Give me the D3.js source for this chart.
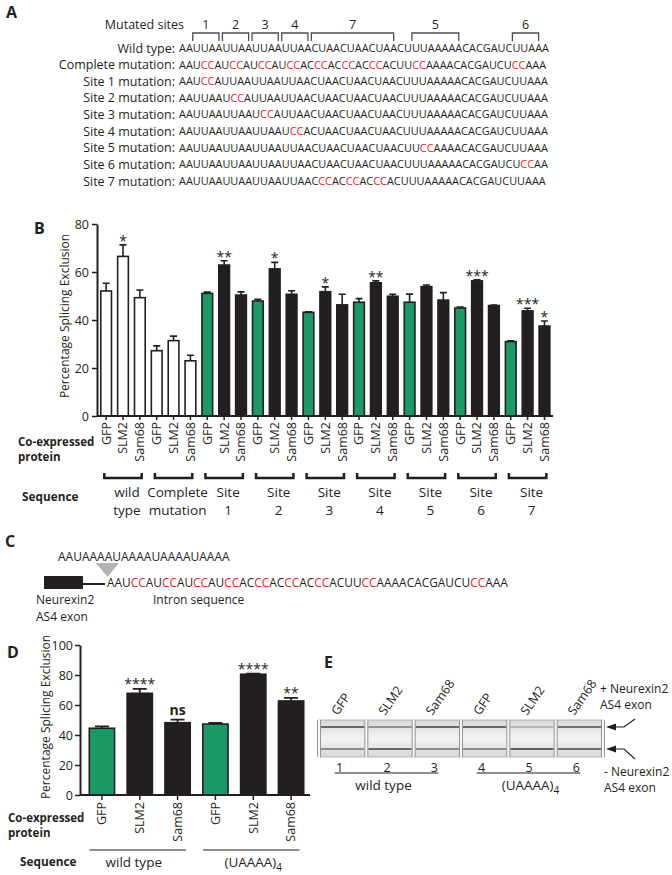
<!DOCTYPE html>
<html>
<head>
<meta charset="utf-8">
<script src="https://cdnjs.cloudflare.com/ajax/libs/d3/7.8.5/d3.min.js"></script>
<style>
  body { margin: 0; background: #fff; }
  svg { display: block; font-family: "Open Sans", sans-serif; }
  text { fill: #231f20; }
</style>
</head>
<body>
<div id="fig"></div>
<script>
// ---- data ----
const seqLabels = ["Wild type:", "Complete mutation:", "Site 1 mutation:", "Site 2 mutation:",
  "Site 3 mutation:", "Site 4 mutation:", "Site 5 mutation:", "Site 6 mutation:", "Site 7 mutation:"];
// [..] marks the mutated (red) bases
const sequences = [
  "AAUUAAUUAAUUAAUUAACUAACUAACUAACUUUAAAAACACGAUCUUAAA",
  "AAU[CC]AU[CC]AU[CC]AU[CC]AC[CC]AC[CC]AC[CC]ACUU[CC]AAAACACGAUCU[CC]AAA",
  "AAU[CC]AUUAAUUAAUUAACUAACUAACUAACUUUAAAAACACGAUCUUAAA",
  "AAUUAAU[CC]AUUAAUUAACUAACUAACUAACUUUAAAAACACGAUCUUAAA",
  "AAUUAAUUAAU[CC]AUUAACUAACUAACUAACUUUAAAAACACGAUCUUAAA",
  "AAUUAAUUAAUUAAU[CC]ACUAACUAACUAACUUUAAAAACACGAUCUUAAA",
  "AAUUAAUUAAUUAAUUAACUAACUAACUAACUU[CC]AAAACACGAUCUUAAA",
  "AAUUAAUUAAUUAAUUAACUAACUAACUAACUUUAAAAACACGAUCU[CC]AA",
  "AAUUAAUUAAUUAAUUAAC[CC]AC[CC]AC[CC]ACUUUAAAAACACGAUCUUAAA"
];
// mutated sites: character ranges in the wild type sequence
const siteNames = ["1", "2", "3", "4", "7", "5", "6"];
const siteFirst = [2, 6, 10, 14, 18, 32, 46];
const siteLast = [5, 9, 13, 17, 29, 38, 49];

const proteins = ["GFP", "SLM2", "Sam68"];
const groupsB = [["wild", "type"], ["Complete", "mutation"], ["Site", "1"], ["Site", "2"], ["Site", "3"],
  ["Site", "4"], ["Site", "5"], ["Site", "6"], ["Site", "7"]];
const meanB = [52.1, 66.5, 49.3, 27.2, 31.4, 23.0, 51.1, 62.9, 50.4, 47.9, 61.3, 50.7, 43.2, 51.8, 46.3,
  47.4, 55.5, 49.9, 47.4, 53.9, 48.3, 45.0, 56.3, 46.0, 31.0, 43.8, 37.5];
const errB = [3.2, 4.8, 3.2, 2.0, 1.9, 2.3, 0.5, 1.8, 1.3, 0.7, 2.7, 1.5, 0.2, 2.0, 4.4,
  1.5, 0.8, 0.8, 3.4, 0.7, 3.1, 0.4, 0.5, 0.2, 0.3, 1.1, 2.1];
const starsB = ["", "*", "", "", "", "", "", "**", "", "", "*", "", "", "*", "",
  "", "**", "", "", "", "", "", "***", "", "", "***", "*"];

const insertSeq = "AAUAAAAUAAAAUAAAAUAAAA";

const groupsD = ["wild type", "(UAAAA)"];
const meanD = [44.5, 67.8, 48.2, 47.3, 80.5, 62.7];
const errD = [1.3, 2.9, 2.0, 0.7, 0.4, 2.0];
const starsD = ["", "****", "ns", "", "****", "**"];

const laneNames = ["GFP", "SLM2", "Sam68", "GFP", "SLM2", "Sam68"];
const upperBand = [0.85, 0.55, 0.85, 0.85, 0.3, 0.8];
const lowerBand = [0.6, 0.85, 0.6, 0.6, 0.9, 0.8];

// ---- drawing ----
const ink = "#231f20", red = "#ed1c24", green = "#1b9966";
const svg = d3.select("#fig").append("svg").attr("width", 672).attr("height", 875);

function panelLabel(g, t, x, y) {
  g.append("text").attr("x", x).attr("y", y).attr("dy", "0.36em")
    .style("font-weight", "bold").style("font-size", "16px").text(t);
}
function txt(g, t, x, y, size, anchor) {
  return g.append("text").attr("x", x).attr("y", y).attr("dy", "0.36em")
    .attr("text-anchor", anchor || "start").style("font-size", size + "px").text(t);
}
function fillSeq(sel) {
  sel.each(function (s) {
    const t = d3.select(this);
    s.split(/(\[[A-Z]+\])/).filter(p => p).forEach(p => {
      const m = p.startsWith("[");
      t.append("tspan").style("fill", m ? red : ink).text(m ? p.slice(1, -1) : p);
    });
  });
}

// Panel A
const A = svg.append("g");
panelLabel(A, "A", 6, 12);
const rowY = d3.scaleLinear().domain([0, 8]).range([48, 181]);
A.selectAll("text.rowlab").data(seqLabels).join("text").attr("class", "rowlab")
  .attr("x", 175).attr("y", (d, i) => rowY(i)).attr("dy", "0.36em")
  .attr("text-anchor", "end").style("font-size", "12.5px").text(d => d);
const seqText = A.selectAll("text.seq").data(sequences).join("text").attr("class", "seq")
  .attr("x", 179).attr("y", (d, i) => rowY(i)).attr("dy", "0.36em").style("font-size", "10.9px");
fillSeq(seqText);

const wt = seqText.node();
const charStart = k => wt.getStartPositionOfChar(k).x;
const charMid = k => (wt.getStartPositionOfChar(k).x + wt.getEndPositionOfChar(k).x) / 2;
A.selectAll("path.br").data(siteNames).join("path").attr("class", "br")
  .attr("d", (d, i) => `M${charStart(siteFirst[i])},41V33H${charMid(siteLast[i])}V41`)
  .attr("fill", "none").attr("stroke", "#4d4d4d").attr("stroke-width", 1.3);
A.selectAll("text.sn").data(siteNames).join("text").attr("class", "sn")
  .attr("x", (d, i) => (charStart(siteFirst[i]) + charMid(siteLast[i])) / 2)
  .attr("y", 24).attr("dy", "0.36em").attr("text-anchor", "middle")
  .style("font-size", "12.5px").text(d => d);
txt(A, "Mutated sites", 184, 24, 12.5, "end");

// Panel B
const B = svg.append("g");
panelLabel(B, "B", 34, 228);
const xB = d3.scaleBand().domain(d3.range(meanB.length)).range([97.7, 552.9])
  .paddingInner(0.27).paddingOuter(0.135);
const yB = d3.scaleLinear().domain([0, 80]).range([416, 224]);
const bwB = xB.bandwidth();
const fillB = i => i < 6 ? "#fff" : (i % 3 === 0 ? green : ink);

B.selectAll("rect.bar").data(meanB).join("rect").attr("class", "bar")
  .attr("x", (d, i) => xB(i) + 0.8).attr("width", bwB - 1.6)
  .attr("y", d => yB(d)).attr("height", d => yB(0) - yB(d))
  .attr("fill", (d, i) => fillB(i)).attr("stroke", ink).attr("stroke-width", 1.6);
B.selectAll("path.err").data(meanB).join("path").attr("class", "err")
  .attr("d", (d, i) => {
    const cx = xB(i) + bwB / 2, top = yB(d + errB[i]);
    return `M${cx},${yB(d)}V${top}M${cx - 3.5},${top}H${cx + 3.5}`;
  })
  .attr("fill", "none").attr("stroke", ink).attr("stroke-width", 1.6);
B.selectAll("text.star").data(starsB).join("text").attr("class", "star")
  .attr("x", (d, i) => xB(i) + bwB / 2).attr("y", (d, i) => yB(meanB[i] + errB[i]) + 1)
  .attr("text-anchor", "middle").style("font-size", "14px").text(d => d);

const axB = B.append("g").attr("transform", "translate(97,0)")
  .call(d3.axisLeft(yB).tickValues([0, 20, 40, 60, 80]).tickSize(5).tickPadding(3).tickSizeOuter(0));
axB.selectAll("text").style("font-size", "12.5px").style("font-family", "Open Sans");
const axBx = B.append("g").attr("transform", "translate(0,416)")
  .call(d3.axisBottom(xB).tickFormat(i => proteins[i % 3]).tickSize(4).tickSizeOuter(0));
axBx.select(".domain").attr("d", "M97,0H553");
axBx.selectAll("text").attr("y", 0).attr("x", -6).attr("dy", "0.35em")
  .attr("transform", "rotate(-90)").attr("text-anchor", "end")
  .style("font-size", "12.5px").style("font-family", "Open Sans");
[axB, axBx].forEach(a => {
  a.select(".domain").attr("stroke", ink).attr("stroke-width", 2);
  a.selectAll(".tick line").attr("stroke", ink).attr("stroke-width", 1.5);
});

txt(B, "Co-expressed", 18, 442, 11.5).style("font-weight", "bold");
txt(B, "protein", 18, 457, 11.5).style("font-weight", "bold");
txt(B, "Sequence", 22, 497, 11.8).style("font-weight", "bold");
B.append("text").attr("transform", "translate(65,316) rotate(-90)").attr("dy", "0.36em")
  .attr("text-anchor", "middle").style("font-size", "12px").text("Percentage Splicing Exclusion");

groupsB.forEach((lines, g) => {
  const x0 = xB(3 * g) + bwB * 0.35, x1 = xB(3 * g + 2) + bwB * 0.65;
  B.append("path").attr("d", `M${x0},473V478H${x1}V473`).attr("fill", "none")
    .attr("stroke", ink).attr("stroke-width", 2.5);
  const cx = (x0 + x1) / 2 + 4;
  lines.forEach((l, k) => txt(B, l, cx, 492 + k * 18, 13.5, "middle"));
});

// Panel C
const C = svg.append("g");
panelLabel(C, "C", 5, 541);
txt(C, insertSeq, 58, 557, 12);
C.append("path").attr("d", "M96,563H119L107.5,577Z").attr("fill", "#b3b3b3");
C.append("rect").attr("x", 44).attr("y", 576).attr("width", 39).attr("height", 13).attr("fill", ink);
C.append("line").attr("x1", 83).attr("x2", 105).attr("y1", 584).attr("y2", 584)
  .attr("stroke", ink).attr("stroke-width", 2);
fillSeq(C.selectAll("text.cseq").data([sequences[1]]).join("text").attr("class", "cseq")
  .attr("x", 107).attr("y", 582.5).attr("dy", "0.36em").style("font-size", "11.9px"));
txt(C, "Neurexin2", 36, 599.5, 12);
txt(C, "AS4 exon", 36, 616.5, 12);
txt(C, "Intron sequence", 153, 599.5, 12);

// Panel D
const D = svg.append("g");
panelLabel(D, "D", 7, 652);
const xD = d3.scaleBand().domain(d3.range(meanD.length)).range([83, 310])
  .paddingInner(0.29).paddingOuter(0.145);
const yD = d3.scaleLinear().domain([0, 100]).range([795, 645]);
const bwD = xD.bandwidth();
D.selectAll("rect.bar").data(meanD).join("rect").attr("class", "bar")
  .attr("x", (d, i) => xD(i) + 0.8).attr("width", bwD - 1.6)
  .attr("y", d => yD(d)).attr("height", d => yD(0) - yD(d))
  .attr("fill", (d, i) => i % 3 === 0 ? green : ink).attr("stroke", ink).attr("stroke-width", 1.6);
D.selectAll("path.err").data(meanD).join("path").attr("class", "err")
  .attr("d", (d, i) => {
    const cx = xD(i) + bwD / 2, top = yD(d + errD[i]);
    return `M${cx},${yD(d)}V${top}M${cx - 7},${top}H${cx + 7}`;
  })
  .attr("fill", "none").attr("stroke", ink).attr("stroke-width", 1.8);
D.selectAll("text.star").data(starsD).join("text").attr("class", "star")
  .attr("x", (d, i) => xD(i) + bwD / 2)
  .attr("y", (d, i) => yD(meanD[i] + errD[i]) - (d === "ns" ? 5 : 0))
  .attr("text-anchor", "middle").style("font-size", "14px")
  .style("font-weight", d => d === "ns" ? "bold" : "normal").text(d => d);

const axD = D.append("g").attr("transform", "translate(80,0)")
  .call(d3.axisLeft(yD).tickValues([0, 20, 40, 60, 80, 100]).tickSize(5).tickPadding(2).tickSizeOuter(0));
axD.selectAll("text").style("font-size", "12.5px").style("font-family", "Open Sans");
const axDx = D.append("g").attr("transform", "translate(0,795)")
  .call(d3.axisBottom(xD).tickFormat(i => proteins[i % 3]).tickSize(5).tickSizeOuter(0));
axDx.select(".domain").attr("d", "M80,0H310");
axDx.selectAll("text").attr("y", 0).attr("x", -7).attr("dy", "0.35em")
  .attr("transform", "rotate(-90)").attr("text-anchor", "end")
  .style("font-size", "12.5px").style("font-family", "Open Sans");
[axD, axDx].forEach(a => {
  a.select(".domain").attr("stroke", ink).attr("stroke-width", 2);
  a.selectAll(".tick line").attr("stroke", ink).attr("stroke-width", 1.5);
});
D.append("text").attr("transform", "translate(46,717) rotate(-90)").attr("dy", "0.36em")
  .attr("text-anchor", "middle").style("font-size", "12px").text("Percentage Splicing Exclusion");
txt(D, "Co-expressed", 8, 818, 11.5).style("font-weight", "bold");
txt(D, "protein", 8, 833, 11.5).style("font-weight", "bold");
txt(D, "Sequence", 20, 862, 11.8).style("font-weight", "bold");
groupsD.forEach((name, g) => {
  const x0 = xD(3 * g) + 1, x1 = xD(3 * g + 2) + bwD - 5;
  D.append("line").attr("x1", x0).attr("x2", x1).attr("y1", 850).attr("y2", 850)
    .attr("stroke", ink).attr("stroke-width", 1.2);
  const t = txt(D, name, (x0 + x1) / 2 + (g === 0 ? -4 : 2), 862, 13.5, "middle");
  if (g === 1) t.append("tspan").attr("dy", "0.45em").style("font-size", "10px").text("4");
});

// Panel E
const E = svg.append("g");
panelLabel(E, "E", 324, 662);
const xE = d3.scaleBand().domain(d3.range(laneNames.length)).range([319, 603]);
const bwE = xE.bandwidth();
const defs = svg.append("defs");
const grad = defs.append("linearGradient").attr("id", "gel").attr("x1", 0).attr("x2", 0).attr("y1", 0).attr("y2", 1);
grad.append("stop").attr("offset", "0%").attr("stop-color", "#d8d8d8");
grad.append("stop").attr("offset", "50%").attr("stop-color", "#f3f3f3");
grad.append("stop").attr("offset", "100%").attr("stop-color", "#d8d8d8");
E.append("rect").attr("x", 319).attr("y", 720).attr("width", 284).attr("height", 37)
  .attr("fill", "url(#gel)").attr("stroke", "#a8a8a8").attr("stroke-width", 0.8);
E.selectAll("line.up").data(upperBand).join("line").attr("class", "up")
  .attr("x1", (d, i) => xE(i) + 2).attr("x2", (d, i) => xE(i) + bwE - 2)
  .attr("y1", 727).attr("y2", 727).attr("stroke", ink).attr("stroke-width", 1.6)
  .attr("stroke-opacity", d => d);
E.selectAll("line.low").data(lowerBand).join("line").attr("class", "low")
  .attr("x1", (d, i) => xE(i) + 2).attr("x2", (d, i) => xE(i) + bwE - 2)
  .attr("y1", 749).attr("y2", 749).attr("stroke", ink).attr("stroke-width", 1.6)
  .attr("stroke-opacity", d => d);
const edges = laneNames.map((d, i) => xE(i)).concat([603]);
edges.forEach(x => {
  E.append("rect").attr("x", x - 1.5).attr("y", 720).attr("width", 3).attr("height", 37).attr("fill", "#f7f7f7");
  [-1.5, 1.5].forEach(o => E.append("line").attr("x1", x + o).attr("x2", x + o)
    .attr("y1", 720).attr("y2", 757).attr("stroke", "#8c8c8c").attr("stroke-width", 0.9));
});
E.selectAll("text.lane").data(laneNames).join("text").attr("class", "lane")
  .attr("transform", (d, i) => `translate(${xE(i) + bwE / 2 - 5},716) rotate(-55)`)
  .style("font-size", "12.5px").text(d => d);
const numX = i => xE(i) + bwE / 2 - 3;
E.selectAll("text.num").data(laneNames).join("text").attr("class", "num")
  .attr("x", (d, i) => numX(i)).attr("y", 767).attr("dy", "0.36em")
  .attr("text-anchor", "middle").style("font-size", "12.5px").text((d, i) => i + 1);
groupsD.forEach((name, g) => {
  const x0 = numX(3 * g) - 5, x1 = numX(3 * g + 2) + 4;
  E.append("line").attr("x1", x0).attr("x2", x1).attr("y1", 773).attr("y2", 773)
    .attr("stroke", ink).attr("stroke-width", 1);
  const t = txt(E, name, (x0 + x1) / 2 + (g === 0 ? -3 : 2), 785, 13.5, "middle");
  if (g === 1) t.append("tspan").attr("dy", "0.45em").style("font-size", "10px").text("4");
});
// arrows to the two bands
[[727, -8], [749, 10]].forEach(([y, dy]) => {
  E.append("path").attr("d", `M606,${y}L616,${y - 3.5}V${y + 3.5}Z`).attr("fill", ink);
  E.append("path").attr("d", `M615,${y}H624L635,${y + dy}`).attr("fill", "none")
    .attr("stroke", ink).attr("stroke-width", 1.2);
});
txt(E, "+ Neurexin2", 600, 688.5, 12);
txt(E, "AS4 exon", 600, 705, 12);
txt(E, "- Neurexin2", 604, 771.5, 12);
txt(E, "AS4 exon", 604, 788, 12);
</script>
</body>
</html>
